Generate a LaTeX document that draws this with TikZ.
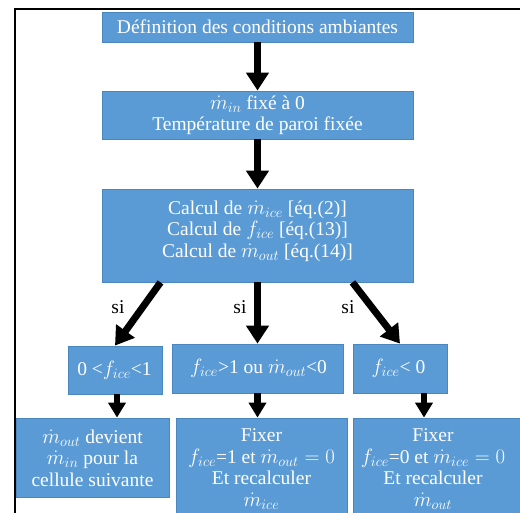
\documentclass[tikz,border=0pt]{standalone}
\usepackage{fontspec}
\setmainfont{Liberation Serif}
\newfontfamily\diagfont{Liberation Serif}
\usetikzlibrary{arrows.meta,calc}
\definecolor{boxblue}{HTML}{5B9BD5}
\definecolor{boxedge}{HTML}{4A86C0}
\begin{document}
\begin{tikzpicture}[x=1pt,y=-1pt,
  box/.style 2 args={draw=boxedge, line width=0.8pt, fill=boxblue, inner sep=0pt,
    minimum width=#1pt, minimum height=#2pt},
  txt/.style={text=white, align=center, inner sep=0pt,
    font=\diagfont\fontsize{19.5}{21.5}\selectfont},
  silabel/.style={text=black, inner sep=0pt, font=\diagfont\fontsize{19.5}{21.5}\selectfont},
  bigarrow/.style={line width=7pt, -{Triangle[width=22pt,length=18pt]}},
  smallarrow/.style={line width=6.5pt, -{Triangle[width=17pt,length=15pt]}}]
\path[use as bounding box, clip] (0,0) rectangle (520,512);
\fill[white] (0,0) rectangle (520,512);

% level 1-3
\node[box={311}{30}] (b1) at (257.5,27) {};
\node[txt] (t1) at (257.5,27) {Définition des conditions ambiantes};
\node[box={311}{48}] (b2) at (257.5,115) {};
\node[txt] (t2) at (257.5,115) {$\dot{m}_{in}$ fixé à 0\\Température de paroi fixée};
\node[box={311}{93}] (b3) at (257.5,235.5) {};
\node[txt] (t3) at (257.5,231) {Calcul de $\dot{m}_{ice}$ [éq.(2)]\\Calcul de $f_{ice}$ [éq.(13)]\\Calcul de $\dot{m}_{out}$ [éq.(14)]};

% level 4
\node[box={94}{48}] (b4a) at (115,370) {};
\node[txt] (t4a) at (114.5,370) {0 <$f_{ice}$<1};
\node[box={171}{49}] (b4b) at (257.5,368.5) {};
\node[txt] (t4b) at (258.5,368.5) {$f_{ice}$>1 ou $\dot{m}_{out}$<0};
\node[box={94}{49}] (b4c) at (400,368.5) {};
\node[txt] (t4c) at (398.5,368.5) {$f_{ice}$< 0};

% level 5
\node[box={153}{79}] (b5a) at (92.5,457.5) {};
\node[txt] (t5a) at (92.5,458) {$\dot{m}_{out}$ devient\\$\dot{m}_{in}$ pour la\\cellule suivante};
\node[box={171}{110}] (b5b) at (261.5,473) {};
\node[txt] (t5b) at (261.5,469) {Fixer\\$f_{ice}$=1 et $\dot{m}_{out}=0$\\Et recalculer\\$\dot{m}_{ice}$};
\node[box={180}{110}] (b5c) at (443,473) {};
\node[txt] (t5c) at (433,469) {Fixer\\$f_{ice}$=0 et $\dot{m}_{ice}=0$\\Et recalculer\\$\dot{m}_{out}$};

% arrows
\draw[bigarrow] (b1.south) -- (b2.north);
\draw[bigarrow] (b2.south) -- (b3.north);
\draw[bigarrow] ([xshift=-97pt]b3.south) -- (b4a.north);
\draw[bigarrow] (b3.south) -- (b4b.north);
\draw[bigarrow] ([xshift=95pt]b3.south) -- (b4c.north);
\draw[smallarrow] ([xshift=2pt]b4a.south) -- ([xshift=2pt]b4a.south |- b5a.north);
\draw[smallarrow] (b4b.south) -- (b4b.south |- b5b.north);
\draw[smallarrow] ([xshift=24pt]b4c.south) -- ([xshift=24pt]b4c.south |- b5c.north);

% labels
\node[silabel] (s1) at (118,307) {si};
\node[silabel] (s2) at (240,307) {si};
\node[silabel] (s3) at (348,307) {si};

% frame
\draw[line width=2pt] (14.5,530) -- (14.5,9) -- (530,9);
\end{tikzpicture}
\end{document}
